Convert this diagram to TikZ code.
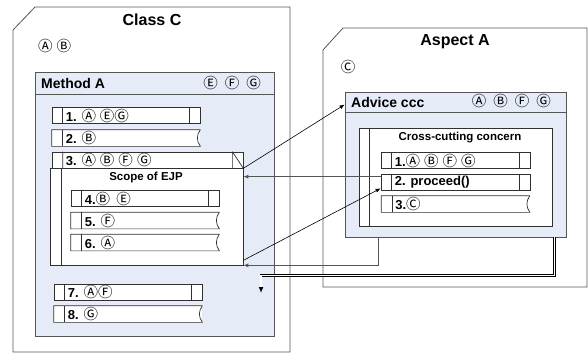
\documentclass[tikz,border=0pt]{standalone}
\usepackage{fontspec}
\setmainfont{Liberation Sans}
\newfontfamily\cfont{Noto Sans CJK SC}
\usetikzlibrary{arrows.meta}
\definecolor{paleblue}{HTML}{E6ECF7}
\definecolor{frameg}{HTML}{555555}
\definecolor{rowg}{HTML}{303030}
\newcommand{\cl}[1]{{\cfont\mdseries\fontsize{14.5}{14.5}\selectfont #1}}
\newcommand{\sk}{\hspace{4pt}}
\newcommand{\wk}{\hspace{7pt}}
\newcommand{\fullrow}[4][148]{%
  \node[rowbox, minimum width=#1pt] (#2) at (#3) {};
  \draw[rowline] ([xshift=11pt]#2.north west) -- ([xshift=11pt]#2.south west)
    ([xshift=-11pt]#2.north east) -- ([xshift=-11pt]#2.south east);
  \node[rowtext] (#2t) at ([xshift=14pt]#2.west) {#4};}
\newcommand{\cutrow}[3]{%
  \node[rowbox, draw=none, minimum width=148pt] (#1) at (#2) {};
  \draw[rowline] (#1.north east) -- (#1.north west) -- (#1.south west) -- (#1.south east)
    .. controls +(-4pt,6pt) and +(-4pt,-6pt) .. (#1.north east);
  \draw[rowline] ([xshift=11pt]#1.north west) -- ([xshift=11pt]#1.south west);
  \node[rowtext] (#1t) at ([xshift=14pt]#1.west) {#3};}
\begin{document}
\begin{tikzpicture}[x=1pt,y=-1pt,
  frame/.style={draw=frameg, line width=0.8pt},
  bluebox/.style={frame, fill=paleblue, rectangle, inner sep=0pt},
  rowbox/.style={draw=rowg, line width=0.7pt, fill=white, rectangle, inner sep=0pt, minimum height=16pt},
  rowline/.style={draw=rowg, line width=0.7pt},
  rowtext/.style={anchor=west, inner sep=0pt, font=\bfseries\fontsize{13}{13}\selectfont},
  title/.style={inner sep=0pt, font=\bfseries\fontsize{16}{16}\selectfont},
  head/.style={inner sep=0pt, anchor=west, font=\bfseries\fontsize{14}{14}\selectfont},
  sub/.style={inner sep=0pt, font=\bfseries\fontsize{11.5}{12}\selectfont},
  circ/.style={inner sep=0pt},
  arr/.style={draw=black, line width=0.6pt, -{Latex[length=5pt,width=4pt]}},
  garr/.style={draw=frameg, line width=0.8pt, -{Latex[length=5pt,width=4pt]}},
  dbl/.style={draw=black, double=white, double distance=1.6pt, line width=0.5pt},
  ]
\useasboundingbox (0,0) rectangle (588,354);
% Class C
\draw[frame] (13,30) -- (35,7) -- (290,7) -- (290,352) -- (13,352) -- cycle;
\node[title] (classC) at (152,20) {Class C};
\node[circ, anchor=west] (classCv) at (38,46) {\cl{Ⓐ\sk Ⓑ}};
% Method A
\node[bluebox, minimum width=239pt, minimum height=264pt] (methodA) at (154.5,204) {};
\draw[frame] ([yshift=-23pt]methodA.north west) -- ([yshift=-23pt]methodA.north east);
\node[head] (methodAt) at (41,83) {Method A};
\node[circ, anchor=east] (methodAv) at (261,83) {\cl{Ⓔ\wk Ⓕ\wk Ⓖ}};
\fullrow{r1}{126,115.5}{1. \cl{Ⓐ\sk ⒺⒼ}}
\cutrow{r2}{126,138}{2. \cl{Ⓑ}}
% row 3
\node[rowbox, minimum width=191pt] (r3) at (147.5,160) {};
\draw[rowline] ([xshift=11pt]r3.north west) -- ([xshift=11pt]r3.south west)
  ([xshift=-11pt]r3.north east) -- ([xshift=-11pt]r3.south east)
  ([xshift=-11pt]r3.north east) -- (r3.south east);
\node[rowtext] (r3t) at ([xshift=14pt]r3.west) {3. \cl{Ⓐ\sk Ⓑ\sk Ⓕ\sk Ⓖ}};
% scope
\node[rowbox, minimum width=193pt, minimum height=97pt] (scope) at (146.5,216.5) {};
\draw[rowline] ([xshift=12pt]scope.north west) -- ([xshift=12pt]scope.south west);
\node[sub] (scopet) at (146,178) {Scope of EJP};
\fullrow{r4}{145,198.5}{4.\cl{Ⓑ\hspace{3pt} Ⓔ}}
\cutrow{r5}{145,220.5}{5. \cl{Ⓕ}}
\cutrow{r6}{145,242.5}{6. \cl{Ⓐ}}
\fullrow{r7}{128,292}{7. \cl{ⒶⒻ}}
\cutrow{r8}{128,314}{8. \cl{Ⓖ}}
% Aspect A
\draw[frame] (323,50) -- (343,28) -- (587,28) -- (587,287) -- (323,287) -- cycle;
\node[title] (aspectA) at (455,42) {Aspect A};
\node[circ] (aspectAv) at (348,67) {\cl{Ⓒ}};
% Advice
\node[bluebox, minimum width=221pt, minimum height=145pt] (advice) at (455.5,164.5) {};
\draw[frame] ([yshift=-21pt]advice.north west) -- ([yshift=-21pt]advice.north east);
\node[head] (advicet) at (351,102) {Advice ccc};
\node[circ, anchor=east] (advicev) at (551,101) {\cl{Ⓐ\wk Ⓑ\wk Ⓕ\wk Ⓖ}};
% crosscut
\node[rowbox, minimum width=193pt, minimum height=98pt] (cross) at (455.5,177) {};
\draw[rowline] ([xshift=11pt]cross.north west) -- ([xshift=11pt]cross.south west);
\node[sub] (crosst) at (460,138) {Cross-cutting concern};
\fullrow[149]{c1}{455.5,160.5}{1.\cl{Ⓐ\sk Ⓑ\sk Ⓕ\sk Ⓖ}}
\fullrow[149]{c2}{455.5,182}{2. proceed()}
\cutrow{c3}{455.5,204}{3.\cl{Ⓒ}}
% connectors
\draw[arr] (r3.south east) -- ([yshift=-13pt]advice.north west);
\draw[garr] ([yshift=-3pt]c2.north west) -- ([yshift=-3pt]c2.north west -| scope.east);
\draw[arr] ([yshift=5pt]scope.south east) -- ([yshift=2pt]c2.south west);
\draw[garr] ([xshift=34pt]advice.south west) |- (scope.south east);
\coordinate (ret) at (261,293);
\draw[dbl] ([xshift=-12pt]advice.south east) -- ++(0,38) -| ([yshift=6pt]ret);
\draw[draw=black, line width=1.2pt, -{Latex[length=6pt,width=5pt]}] ([yshift=6pt]ret) -- (ret);
\end{tikzpicture}
\end{document}
